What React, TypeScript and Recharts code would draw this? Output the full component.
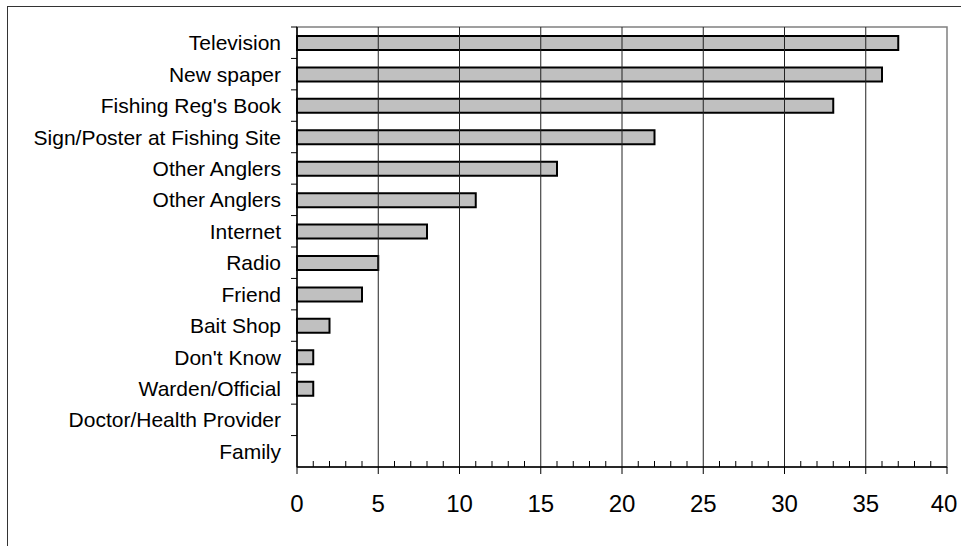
import React from "react";
import { BarChart, Bar, XAxis, YAxis, ReferenceLine, ReferenceArea } from "recharts";

// Where anglers heard about the advisory (number of respondents)
const sources = [
  "Television",
  "New spaper",
  "Fishing Reg's Book",
  "Sign/Poster at Fishing Site",
  "Other Anglers",
  "Other Anglers",
  "Internet",
  "Radio",
  "Friend",
  "Bait Shop",
  "Don't Know",
  "Warden/Official",
  "Doctor/Health Provider",
  "Family",
];
const counts = [37, 36, 33, 22, 16, 11, 8, 5, 4, 2, 1, 1, 0, 0];

const majorTicks = [0, 5, 10, 15, 20, 25, 30, 35, 40];
const gridValues = [5, 10, 15, 20, 25, 30, 35];
const minorTicks = Array.from({ length: 41 }, (_, i) => i);

const data = sources.map((name, i) => ({ key: `${i}`, name, count: counts[i] }));

const WIDTH = 961;
const HEIGHT = 546;
const MARGIN = { top: 27, right: 14, bottom: 39, left: 0 };
const Y_AXIS_W = 297;
const X_AXIS_H = 40;
const PLOT_H = HEIGHT - MARGIN.top - MARGIN.bottom - X_AXIS_H;
const BAND = PLOT_H / sources.length;
const FONT = "'Liberation Sans', Arial, sans-serif";
const X_MAX = majorTicks[majorTicks.length - 1];

const CategoryTick = (props: any) => {
  const { x, y, payload } = props;
  const label = sources[Number(payload.value)];
  return (
    <g>
      <line x1={x - 6} x2={x} y1={y - BAND / 2} y2={y - BAND / 2} stroke="#000" strokeWidth={1} />
      <text
        x={x - 16}
        y={y}
        textAnchor="end"
        dominantBaseline="central"
        fontFamily={FONT}
        fontSize={21}
        fill="#000"
      >
        {label}
      </text>
    </g>
  );
};

const ValueTick = (props: any) => {
  const { x, y, payload } = props;
  const v = Number(payload.value);
  const major = majorTicks.includes(v);
  if (!major) {
    return <line x1={x} x2={x} y1={y} y2={y - 6} stroke="#000" strokeWidth={1} />;
  }
  // the last label is nudged left so it stays inside the page
  const dx = v === X_MAX ? -3 : 0;
  return (
    <g>
      <line x1={x} x2={x} y1={y} y2={y + 7} stroke="#000" strokeWidth={1} />
      <text
        x={x + dx}
        y={y + 45}
        textAnchor="middle"
        fontFamily={FONT}
        fontSize={24}
        fill="#000"
      >
        {v}
      </text>
    </g>
  );
};

export default function App() {
  return (
    <>
      <style>{`body { margin: 0; }`}</style>
      <div style={{ position: "relative", width: WIDTH, height: HEIGHT, overflow: "hidden", background: "#fff" }}>
        {/* frame around the chart (its right and bottom edges run off the page) */}
        <div
          style={{
            position: "absolute",
            left: 7,
            top: 6,
            right: 0,
            bottom: 0,
            borderLeft: "1.5px solid #333",
            borderTop: "1.5px solid #333",
          }}
        />
        <div style={{ position: "absolute", left: 0, top: 0 }}>
          <BarChart
            width={WIDTH}
            height={HEIGHT}
            data={data}
            layout="vertical"
            margin={MARGIN}
            barCategoryGap={0}
          >
            <ReferenceArea x1={0} x2={X_MAX} fill="none" stroke="#808080" strokeWidth={1.5} ifOverflow="visible" />
            {gridValues.map((v) => (
              <ReferenceLine key={v} x={v} stroke="#222" strokeWidth={1} />
            ))}
            <XAxis
              type="number"
              dataKey="count"
              domain={[0, X_MAX]}
              ticks={minorTicks}
              interval={0}
              height={X_AXIS_H}
              tickSize={0}
              tickMargin={0}
              tickLine={false}
              axisLine={{ stroke: "#000", strokeWidth: 1.5 }}
              tick={(p: any) => <ValueTick {...p} />}
            />
            <YAxis
              type="category"
              dataKey="key"
              width={Y_AXIS_W}
              interval={0}
              tickSize={0}
              tickMargin={0}
              tickLine={false}
              axisLine={{ stroke: "#000", strokeWidth: 1.5 }}
              tick={(p: any) => <CategoryTick {...p} />}
            />
            <Bar
              dataKey="count"
              fill="#c0c0c0"
              stroke="#000"
              strokeWidth={2}
              barSize={14}
              isAnimationActive={false}
            />
          </BarChart>
        </div>
      </div>
    </>
  );
}
